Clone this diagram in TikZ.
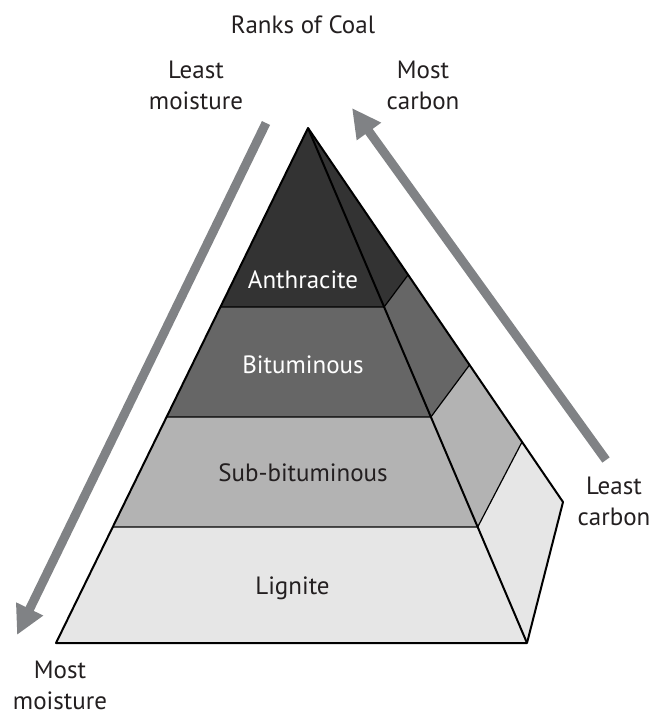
\documentclass[tikz,border=0pt]{standalone}
\usepackage{fontspec}
\setmainfont{PT Sans}
\usepackage{xcolor}
\usepackage{tikz}
\usetikzlibrary{arrows.meta}

\definecolor{inkgrey}{HTML}{231F20}
\definecolor{arrowgrey}{HTML}{808285}
\definecolor{coalA}{HTML}{333333}
\definecolor{coalB}{HTML}{666666}
\definecolor{coalC}{HTML}{B3B3B3}
\definecolor{coalD}{HTML}{E6E6E6}

\begin{document}
\begin{tikzpicture}[x=1pt, y=-1pt,
   rank/.style={font=\fontsize{25}{31}\selectfont, anchor=base, inner sep=0pt},
   trendlabel/.style={font=\fontsize{25}{31}\selectfont, align=center,
                      inner sep=0pt, text=inkgrey},
   trend/.style={-{Triangle[length=29pt,width=28pt]}, line width=9pt, draw=arrowgrey},
   edge/.style={line width=2pt, line join=round},
   seam/.style={line width=1.2pt}]
\useasboundingbox (0,0) rectangle (653,715);

% pyramid corners: front left (L), front right (R), back (B)
\coordinate (apex) at (308,128);
\coordinate (L0) at (apex); \coordinate (R0) at (apex); \coordinate (B0) at (apex);
\coordinate (L1) at (220.4,307); \coordinate (R1) at (384.1,307); \coordinate (B1) at (408,275);
\coordinate (L2) at (166.6,417); \coordinate (R2) at (430.9,417); \coordinate (B2) at (469.5,365);
\coordinate (L3) at (112.8,527); \coordinate (R3) at (477.7,527); \coordinate (B3) at (522,442);
\coordinate (L4) at (56,643);    \coordinate (R4) at (527,643);   \coordinate (B4) at (563,502);

\foreach \i/\j/\shade in {0/1/coalA,1/2/coalB,2/3/coalC,3/4/coalD} {
  \fill[\shade] (L\i) -- (R\i) -- (R\j) -- (L\j) -- cycle;
  \fill[\shade] (R\i) -- (B\i) -- (B\j) -- (R\j) -- cycle;
}
\foreach \i in {1,2,3}
  \draw[seam] (L\i) -- (R\i) -- (B\i);
\draw[edge] (apex) -- (L4) -- (R4) -- (B4) -- cycle;
\draw[edge] (apex) -- (R4);

\node[rank, text=white]   (anthracite) at (303,288) {Anthracite};
\node[rank, text=white]   (bituminous) at (303,373) {Bituminous};
\node[rank, text=inkgrey] (subbit)     at (303,481) {Sub-bituminous};
\node[rank, text=inkgrey] (lignite)    at (292.5,594) {Lignite};

% trend arrows
\coordinate (dryEnd) at (266,123);
\coordinate (wetTip) at (17,635);
\coordinate (lowEnd) at (606,460);
\coordinate (highTip) at (352,108);
\draw[trend] (dryEnd) -- (wetTip);
\draw[trend] (lowEnd) -- (highTip);

\node[rank, text=inkgrey] (title) at (303,33) {Ranks of Coal};
\node[trendlabel] (leastwet)   at (196,85.5) {Least\\moisture};
\node[trendlabel] (mostcarb)   at (423,85.5) {Most\\carbon};
\node[trendlabel] (leastcarb)  at (614,501)  {Least\\carbon};
\node[trendlabel] (mostwet)    at (60,685)   {Most\\moisture};
\end{tikzpicture}
\end{document}
